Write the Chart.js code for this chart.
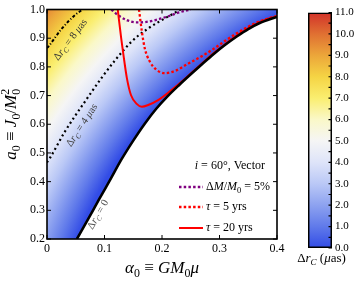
<!DOCTYPE html>
<html lang="en">
<head>
<meta charset="UTF-8">
<title>Delta r_C map</title>
<script src="https://cdn.jsdelivr.net/npm/chart.js"></script>
<style>
  html, body { margin: 0; padding: 0; background: #fff; }
  #wrap { position: relative; width: 357px; height: 284px; }
  #main { position: absolute; left: 0; top: 0; }
  #bar { position: absolute; left: 290px; top: 0; }
</style>
</head>
<body>
<div id="wrap">
  <canvas id="main" width="290" height="284"></canvas>
  <canvas id="bar" width="67" height="284"></canvas>
</div>
<script>
// axis ranges
const xMin = 0, xMax = 0.4, yMin = 0.2, yMax = 1.0;
const cbMin = 0, cbMax = 11;

// contour dr_C = 0 (edge of the allowed region)
const zeroX = [0.052, 0.07, 0.09, 0.11, 0.13, 0.15, 0.17, 0.19, 0.21, 0.23, 0.25, 0.27, 0.29, 0.31, 0.33, 0.35, 0.37, 0.39, 0.40];
const zeroY = [0.200, 0.264, 0.336, 0.407, 0.479, 0.543, 0.602, 0.654, 0.698, 0.737, 0.774, 0.810, 0.845, 0.877, 0.906, 0.932, 0.953, 0.968, 0.974];
// contour dr_C = 4 muas
const fourX = [0, 0.005, 0.031, 0.066, 0.095, 0.118, 0.147, 0.176, 0.205, 0.228, 0.232];
const fourY = [0.467, 0.482, 0.574, 0.679, 0.762, 0.822, 0.888, 0.934, 0.969, 0.995, 1.0];
// contour dr_C = 8 muas
const eightX = [0, 0.002, 0.026, 0.049, 0.062];
const eightY = [0.866, 0.870, 0.934, 0.981, 1.0];
// dM/M0 = 5%
const dmX = [0.112, 0.125, 0.14, 0.155, 0.17, 0.19, 0.21, 0.23, 0.25];
const dmY = [1.0, 0.978, 0.962, 0.955, 0.956, 0.964, 0.976, 0.99, 1.0];
// tau = 5 yrs
const t5X = [0.160, 0.165, 0.170, 0.179, 0.191, 0.205, 0.223, 0.246, 0.27, 0.29, 0.31, 0.33, 0.35, 0.37, 0.39, 0.40];
const t5Y = [1.0, 0.923, 0.865, 0.818, 0.789, 0.778, 0.786, 0.812, 0.838, 0.863, 0.891, 0.917, 0.94, 0.959, 0.972, 0.977];
// tau = 20 yrs
const t20X = [0.123, 0.129, 0.133, 0.139, 0.146, 0.156, 0.165, 0.176, 0.194, 0.217, 0.234, 0.25, 0.27, 0.29, 0.31, 0.33, 0.35, 0.37, 0.39, 0.40];
const t20Y = [1.0, 0.90, 0.841, 0.76, 0.702, 0.671, 0.661, 0.667, 0.685, 0.72, 0.748, 0.777, 0.813, 0.848, 0.880, 0.909, 0.935, 0.956, 0.971, 0.977];

// centre of the (roughly circular) level sets of dr_C, in data units
const FIELD_X = 0.739, FIELD_Y = -0.338;

// colour map, value -> colour
const CMAP = [
  [0, 'rgb(50,76,230)'], [1, 'rgb(96,122,234)'], [2, 'rgb(141,162,240)'], [3, 'rgb(186,200,246)'],
  [4, 'rgb(222,228,249)'], [5, 'rgb(245,245,245)'], [6, 'rgb(250,248,200)'], [7, 'rgb(250,238,112)'],
  [8, 'rgb(245,212,68)'], [9, 'rgb(236,166,58)'], [10, 'rgb(224,112,50)'], [11, 'rgb(210,50,42)']
];

const serif = "'Liberation Serif', 'DejaVu Serif', serif";

function pts(xs, ys) {
  return xs.map((x, i) => ({ x: x, y: ys[i] }));
}

// text with italic / sub / superscript pieces
function drawRich(ctx, parts, x, y, size, align) {
  const fontFor = p => {
    const sz = (p.sub || p.sup) ? size * 0.7 : size;
    return (p.it ? 'italic ' : '') + sz + 'px ' + serif;
  };
  let w = 0;
  parts.forEach(p => { ctx.font = fontFor(p); if (!p.keep) w += ctx.measureText(p.t).width; });
  let cx = align === 'center' ? x - w / 2 : align === 'right' ? x - w : x;
  ctx.textBaseline = 'middle';
  ctx.textAlign = 'left';
  parts.forEach(p => {
    ctx.font = fontFor(p);
    const dy = p.sub ? size * 0.3 : p.sup ? -size * 0.35 : 0;
    ctx.fillText(p.t, cx, y + dy);
    if (!p.keep) cx += ctx.measureText(p.t).width;
  });
}

function fieldFill(chart) {
  const { ctx, chartArea, scales } = chart;
  if (!chartArea) return CMAP[0][1];
  const sx = scales.x, sy = scales.y;
  const cx = sx.getPixelForValue(FIELD_X), cy = sy.getPixelForValue(FIELD_Y);
  const dist = (a, b) => Math.hypot(sx.getPixelForValue(a) - cx, sy.getPixelForValue(b) - cy);
  const r0 = dist(zeroX[0], zeroY[0]);
  const r4 = dist(fourX[0], fourY[0]);
  const r8 = dist(eightX[0], eightY[0]);
  const rOf = v => v <= 4 ? r0 + (r4 - r0) * v / 4 : r4 + (r8 - r4) * (v - 4) / 4;
  const rMax = rOf(cbMax);
  const g = ctx.createRadialGradient(cx, cy, r0, cx, cy, rMax);
  CMAP.forEach(([v, c]) => g.addColorStop((rOf(v) - r0) / (rMax - r0), c));
  return g;
}

function barFill(chart) {
  const { ctx, chartArea, scales } = chart;
  if (!chartArea) return CMAP[0][1];
  const y = scales.y;
  const g = ctx.createLinearGradient(0, y.getPixelForValue(cbMin), 0, y.getPixelForValue(cbMax));
  CMAP.forEach(([v, c]) => g.addColorStop((v - cbMin) / (cbMax - cbMin), c));
  return g;
}

const drC = [{ t: 'Δ' }, { t: 'r', it: true }, { t: 'C', it: true, sub: true }];

const contourLabels = [
  { x: 0.041, y: 0.894, ang: -53, parts: drC.concat([{ t: ' = 8 ' }, { t: 'μ', it: true }, { t: 'as' }]), color: '#333' },
  { x: 0.061, y: 0.596, ang: -57, parts: drC.concat([{ t: ' = 4 ' }, { t: 'μ', it: true }, { t: 'as' }]), color: '#444' },
  { x: 0.089, y: 0.285, ang: -60, parts: drC.concat([{ t: ' = 0' }]), color: '#555' }
];

const line = { pointRadius: 0, fill: false, cubicInterpolationMode: 'monotone', clip: 0 };

const ds20 = Object.assign({ label: 'τ = 20 yrs', data: pts(t20X, t20Y), borderColor: '#ff0000', borderWidth: 2, order: 2 }, line);
const ds5 = Object.assign({ label: 'τ = 5 yrs', data: pts(t5X, t5Y), borderColor: '#ff0000', borderWidth: 2.3, borderDash: [2.5, 2.2], order: 3 }, line);
const dsDm = Object.assign({ label: 'ΔM/M0 = 5%', data: pts(dmX, dmY), borderColor: '#800080', borderWidth: 2.3, borderDash: [2.5, 2.2], order: 3 }, line);

const mainPlugin = {
  id: 'mainDecor',
  afterDatasetsDraw(chart) {
    const { ctx, chartArea: a, scales: { x, y } } = chart;
    ctx.save();
    ctx.strokeStyle = '#000';
    ctx.lineWidth = 1;
    ctx.beginPath();
    x.ticks.forEach(t => {
      const px = x.getPixelForValue(t.value);
      ctx.moveTo(px, a.bottom); ctx.lineTo(px, a.bottom - 4);
      ctx.moveTo(px, a.top); ctx.lineTo(px, a.top + 4);
    });
    y.ticks.forEach(t => {
      const py = y.getPixelForValue(t.value);
      ctx.moveTo(a.left, py); ctx.lineTo(a.left + 4, py);
      ctx.moveTo(a.right, py); ctx.lineTo(a.right - 4, py);
    });
    ctx.stroke();
    ctx.lineWidth = 1.6;
    ctx.strokeRect(a.left, a.top, a.right - a.left, a.bottom - a.top);
    ctx.restore();
  },
  afterDraw(chart) {
    const { ctx, chartArea: a, scales: { x, y } } = chart;
    ctx.save();
    // contour labels
    contourLabels.forEach(l => {
      ctx.save();
      ctx.translate(x.getPixelForValue(l.x), y.getPixelForValue(l.y));
      ctx.rotate(l.ang * Math.PI / 180);
      ctx.fillStyle = l.color;
      drawRich(ctx, l.parts, 0, 0, 10.5, 'center');
      ctx.restore();
    });
    // legend
    ctx.fillStyle = '#000';
    drawRich(ctx, [{ t: 'i', it: true }, { t: ' = 60°, Vector' }], a.right - 12, a.bottom - 73, 12, 'right');
    const rows = [
      [dsDm, [{ t: 'Δ' }, { t: 'M', it: true }, { t: '/' }, { t: 'M', it: true }, { t: '0', sub: true }, { t: ' = 5%' }]],
      [ds5, [{ t: 'τ', it: true }, { t: ' = 5 yrs' }]],
      [ds20, [{ t: 'τ', it: true }, { t: ' = 20 yrs' }]]
    ];
    const rowY = [a.bottom - 52, a.bottom - 32, a.bottom - 11];
    rows.forEach(([d, parts], i) => {
      ctx.save();
      ctx.strokeStyle = d.borderColor;
      ctx.lineWidth = d.borderWidth;
      ctx.setLineDash(d.borderDash || []);
      ctx.beginPath();
      ctx.moveTo(a.right - 98, rowY[i]);
      ctx.lineTo(a.right - 74, rowY[i]);
      ctx.stroke();
      ctx.restore();
      drawRich(ctx, parts, a.right - 71, rowY[i], 12, 'left');
    });
    // axis titles
    drawRich(ctx, [{ t: 'α', it: true }, { t: '0', sub: true }, { t: ' ≡ ' }, { t: 'GM', it: true }, { t: '0', sub: true }, { t: 'μ', it: true }],
      (a.left + a.right) / 2, a.bottom + 30, 17, 'center');
    ctx.save();
    ctx.translate(a.left - 35, (a.top + a.bottom) / 2);
    ctx.rotate(-Math.PI / 2);
    drawRich(ctx, [{ t: 'a', it: true }, { t: '0', sub: true }, { t: ' ≡ ' }, { t: 'J', it: true }, { t: '0', sub: true }, { t: '/' },
      { t: 'M', it: true }, { t: '0', sub: true, keep: true }, { t: '2', sup: true }], 0, 0, 17, 'center');
    ctx.restore();
    ctx.restore();
  }
};

const tickFont = { family: serif, size: 12 };

new Chart(document.getElementById('main'), {
  type: 'line',
  data: {
    datasets: [
      Object.assign({ label: 'Δr_C = 0', data: pts(zeroX, zeroY), borderColor: '#000', borderWidth: 2.6, order: 1 }, line),
      ds20, ds5, dsDm,
      Object.assign({ label: 'Δr_C = 4 μas', data: pts(fourX, fourY), borderColor: '#000', borderWidth: 2.2, borderDash: [2, 3], order: 4 }, line),
      Object.assign({ label: 'Δr_C = 8 μas', data: pts(eightX, eightY), borderColor: '#000', borderWidth: 2, borderDash: [3, 2, 1, 2], order: 4 }, line),
      {
        label: 'field',
        data: [{ x: xMin, y: zeroY[0] }].concat(pts(zeroX, zeroY)),
        fill: 'end',
        borderColor: 'rgba(0,0,0,0)',
        borderWidth: 1,
        pointRadius: 0,
        tension: 0,
        clip: 0,
        backgroundColor: ctx => fieldFill(ctx.chart),
        order: 10
      }
    ]
  },
  options: {
    responsive: false,
    animation: false,
    events: [],
    layout: { padding: { top: 9.5, right: 13, left: 0, bottom: 0 } },
    plugins: { legend: { display: false }, tooltip: { enabled: false } },
    scales: {
      x: {
        type: 'linear', min: xMin, max: xMax,
        ticks: { stepSize: 0.1, color: '#000', font: tickFont, padding: 3, maxRotation: 0,
          callback: v => v === 0 ? '0' : v.toFixed(1) },
        grid: { display: false, drawTicks: false },
        border: { display: false },
        afterFit: s => { s.height = 45; }
      },
      y: {
        type: 'linear', min: yMin, max: yMax,
        ticks: { stepSize: 0.1, color: '#000', font: tickFont, padding: 2, callback: v => v.toFixed(1) },
        grid: { display: false, drawTicks: false },
        border: { display: false },
        afterFit: s => { s.width = 47; }
      }
    }
  },
  plugins: [mainPlugin]
});

const barPlugin = {
  id: 'barDecor',
  afterDatasetsDraw(chart) {
    const { ctx, chartArea: a, scales: { y } } = chart;
    ctx.save();
    ctx.strokeStyle = '#000';
    ctx.lineWidth = 1.2;
    ctx.beginPath();
    y.ticks.forEach(t => {
      const py = y.getPixelForValue(t.value);
      ctx.moveTo(a.right, py); ctx.lineTo(a.right - 3.5, py);
    });
    ctx.stroke();
    ctx.fillStyle = '#000';
    drawRich(ctx, drC.concat([{ t: ' (' }, { t: 'μ', it: true }, { t: 'as)' }]), (a.left + a.right) / 2 + 1.5, a.bottom + 11, 13, 'center');
    ctx.restore();
  }
};

new Chart(document.getElementById('bar'), {
  type: 'bar',
  data: {
    labels: [''],
    datasets: [{
      data: [[cbMin, cbMax]],
      backgroundColor: ctx => barFill(ctx.chart),
      borderColor: '#000',
      borderWidth: 1.8,
      borderSkipped: false,
      barPercentage: 1,
      categoryPercentage: 1
    }]
  },
  options: {
    responsive: false,
    animation: false,
    events: [],
    layout: { padding: { left: 18, top: 12.5, bottom: 36, right: 0 } },
    plugins: { legend: { display: false }, tooltip: { enabled: false } },
    scales: {
      x: { display: false },
      y: {
        position: 'right', min: cbMin, max: cbMax,
        ticks: { stepSize: 0.5, autoSkip: false, color: '#000', font: { family: serif, size: 11 }, padding: 3,
          callback: v => Number.isInteger(v) ? v.toFixed(1) : '' },
        grid: { display: false, drawTicks: false },
        border: { display: false },
        afterFit: s => { s.width = 25; }
      }
    }
  },
  plugins: [barPlugin]
});
</script>
</body>
</html>
